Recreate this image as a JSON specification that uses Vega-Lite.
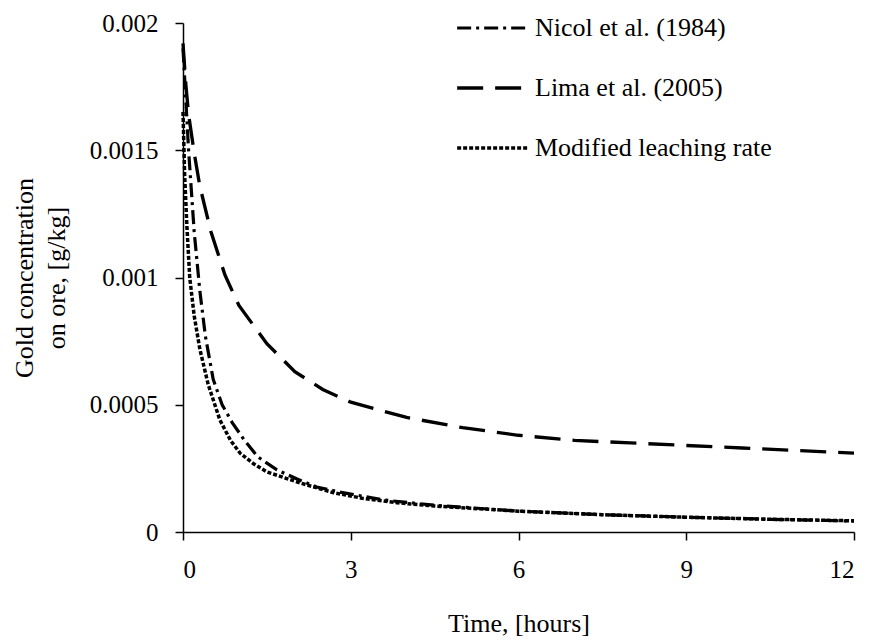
{
  "$schema": "https://vega.github.io/schema/vega-lite/v6.json",
  "width": 671,
  "height": 509,
  "autosize": {"type": "none"},
  "padding": {"left": 183, "top": 23, "right": 15, "bottom": 108},
  "background": "white",
  "config": {
    "font": "Liberation Serif",
    "view": {"stroke": null},
    "axis": {
      "grid": false,
      "domainColor": "black",
      "domainWidth": 1.5,
      "tickColor": "black",
      "tickWidth": 1.5,
      "tickSize": 8,
      "labelFont": "Liberation Serif",
      "labelFontSize": 25,
      "labelColor": "black",
      "titleFont": "Liberation Serif",
      "titleFontSize": 26,
      "titleFontWeight": "normal",
      "titleColor": "black"
    },
    "legend": {
      "labelFont": "Liberation Serif",
      "labelFontSize": 26,
      "labelColor": "black",
      "labelLimit": 0
    }
  },
  "data": {
    "values": [
      {"series": "Nicol et al. (1984)", "t": 0, "c": 0.0019},
      {"series": "Nicol et al. (1984)", "t": 0.05, "c": 0.0017},
      {"series": "Nicol et al. (1984)", "t": 0.1, "c": 0.0015},
      {"series": "Nicol et al. (1984)", "t": 0.2, "c": 0.00118},
      {"series": "Nicol et al. (1984)", "t": 0.3, "c": 0.00095},
      {"series": "Nicol et al. (1984)", "t": 0.4, "c": 0.00077},
      {"series": "Nicol et al. (1984)", "t": 0.54, "c": 0.0006},
      {"series": "Nicol et al. (1984)", "t": 0.7, "c": 0.0005},
      {"series": "Nicol et al. (1984)", "t": 0.88, "c": 0.00043},
      {"series": "Nicol et al. (1984)", "t": 1.1, "c": 0.00036},
      {"series": "Nicol et al. (1984)", "t": 1.34, "c": 0.000295},
      {"series": "Nicol et al. (1984)", "t": 1.68, "c": 0.000244},
      {"series": "Nicol et al. (1984)", "t": 2.04, "c": 0.000208},
      {"series": "Nicol et al. (1984)", "t": 2.39, "c": 0.000177},
      {"series": "Nicol et al. (1984)", "t": 2.8, "c": 0.000157},
      {"series": "Nicol et al. (1984)", "t": 3.58, "c": 0.000126},
      {"series": "Nicol et al. (1984)", "t": 4.5, "c": 0.000105},
      {"series": "Nicol et al. (1984)", "t": 6, "c": 0.000082},
      {"series": "Nicol et al. (1984)", "t": 7.5, "c": 0.000068},
      {"series": "Nicol et al. (1984)", "t": 9, "c": 0.000058},
      {"series": "Nicol et al. (1984)", "t": 10.5, "c": 0.00005},
      {"series": "Nicol et al. (1984)", "t": 12, "c": 0.000043},
      {"series": "Lima et al. (2005)", "t": 0, "c": 0.00192},
      {"series": "Lima et al. (2005)", "t": 0.05, "c": 0.00176},
      {"series": "Lima et al. (2005)", "t": 0.1, "c": 0.00164},
      {"series": "Lima et al. (2005)", "t": 0.2, "c": 0.00149},
      {"series": "Lima et al. (2005)", "t": 0.3, "c": 0.00136},
      {"series": "Lima et al. (2005)", "t": 0.5, "c": 0.00118},
      {"series": "Lima et al. (2005)", "t": 0.75, "c": 0.00101},
      {"series": "Lima et al. (2005)", "t": 1, "c": 0.00089},
      {"series": "Lima et al. (2005)", "t": 1.5, "c": 0.00074},
      {"series": "Lima et al. (2005)", "t": 2, "c": 0.00063},
      {"series": "Lima et al. (2005)", "t": 2.5, "c": 0.00056},
      {"series": "Lima et al. (2005)", "t": 3, "c": 0.00051},
      {"series": "Lima et al. (2005)", "t": 3.5, "c": 0.00048},
      {"series": "Lima et al. (2005)", "t": 4, "c": 0.00045},
      {"series": "Lima et al. (2005)", "t": 5, "c": 0.00041},
      {"series": "Lima et al. (2005)", "t": 6, "c": 0.00038},
      {"series": "Lima et al. (2005)", "t": 7, "c": 0.00036},
      {"series": "Lima et al. (2005)", "t": 8, "c": 0.00035},
      {"series": "Lima et al. (2005)", "t": 9, "c": 0.00034},
      {"series": "Lima et al. (2005)", "t": 10, "c": 0.00033},
      {"series": "Lima et al. (2005)", "t": 11, "c": 0.00032},
      {"series": "Lima et al. (2005)", "t": 12, "c": 0.00031},
      {"series": "Modified leaching rate", "t": 0, "c": 0.00165},
      {"series": "Modified leaching rate", "t": 0.03, "c": 0.0014},
      {"series": "Modified leaching rate", "t": 0.07, "c": 0.0012},
      {"series": "Modified leaching rate", "t": 0.12, "c": 0.001},
      {"series": "Modified leaching rate", "t": 0.2, "c": 0.00085},
      {"series": "Modified leaching rate", "t": 0.3, "c": 0.00072},
      {"series": "Modified leaching rate", "t": 0.45, "c": 0.00058},
      {"series": "Modified leaching rate", "t": 0.66, "c": 0.00044},
      {"series": "Modified leaching rate", "t": 0.85, "c": 0.00036},
      {"series": "Modified leaching rate", "t": 1.02, "c": 0.00031},
      {"series": "Modified leaching rate", "t": 1.25, "c": 0.00027},
      {"series": "Modified leaching rate", "t": 1.5, "c": 0.000236},
      {"series": "Modified leaching rate", "t": 2.09, "c": 0.000193},
      {"series": "Modified leaching rate", "t": 2.68, "c": 0.000155},
      {"series": "Modified leaching rate", "t": 3.2, "c": 0.000133},
      {"series": "Modified leaching rate", "t": 3.83, "c": 0.000115},
      {"series": "Modified leaching rate", "t": 4.5, "c": 0.000102},
      {"series": "Modified leaching rate", "t": 6, "c": 0.000082},
      {"series": "Modified leaching rate", "t": 7.5, "c": 0.000068},
      {"series": "Modified leaching rate", "t": 9, "c": 0.000058},
      {"series": "Modified leaching rate", "t": 10.5, "c": 0.00005},
      {"series": "Modified leaching rate", "t": 12, "c": 0.000044}
    ]
  },
  "mark": {"type": "line", "color": "black", "strokeCap": "butt"},
  "encoding": {
    "x": {
      "field": "t",
      "type": "quantitative",
      "scale": {"domain": [0, 12], "nice": false, "zero": false},
      "axis": {
        "title": "Time, [hours]",
        "values": [0, 3, 6, 9, 12],
        "labelPadding": 17,
        "titlePadding": 28
      }
    },
    "y": {
      "field": "c",
      "type": "quantitative",
      "scale": {"domain": [0, 0.002], "nice": false},
      "axis": {
        "title": ["Gold concentration", "on ore, [g/kg]"],
        "titleLineHeight": 32,
        "values": [0, 0.0005, 0.001, 0.0015, 0.002],
        "format": "~g",
        "labelPadding": 17,
        "titlePadding": 20
      }
    },
    "strokeDash": {
      "field": "series",
      "type": "nominal",
      "scale": {
        "domain": ["Nicol et al. (1984)", "Lima et al. (2005)", "Modified leaching rate"],
        "range": [[14, 5, 3, 5], [26, 12], [4, 2]]
      },
      "legend": {
        "title": null,
        "orient": "none",
        "legendX": 272,
        "legendY": -10,
        "padding": 0,
        "symbolType": "stroke",
        "symbolSize": 5000,
        "symbolStrokeColor": "black",
        "clipHeight": 30,
        "labelOffset": 5,
        "rowPadding": 30
      }
    },
    "strokeWidth": {
      "field": "series",
      "type": "nominal",
      "scale": {
        "domain": ["Nicol et al. (1984)", "Lima et al. (2005)", "Modified leaching rate"],
        "range": [3.2, 3.5, 1]
      },
      "legend": {
        "title": null,
        "orient": "none",
        "legendX": 272,
        "legendY": -10,
        "padding": 0,
        "symbolType": "stroke",
        "symbolSize": 5000,
        "symbolStrokeColor": "black",
        "clipHeight": 30,
        "labelOffset": 5,
        "rowPadding": 30
      }
    }
  }
}
